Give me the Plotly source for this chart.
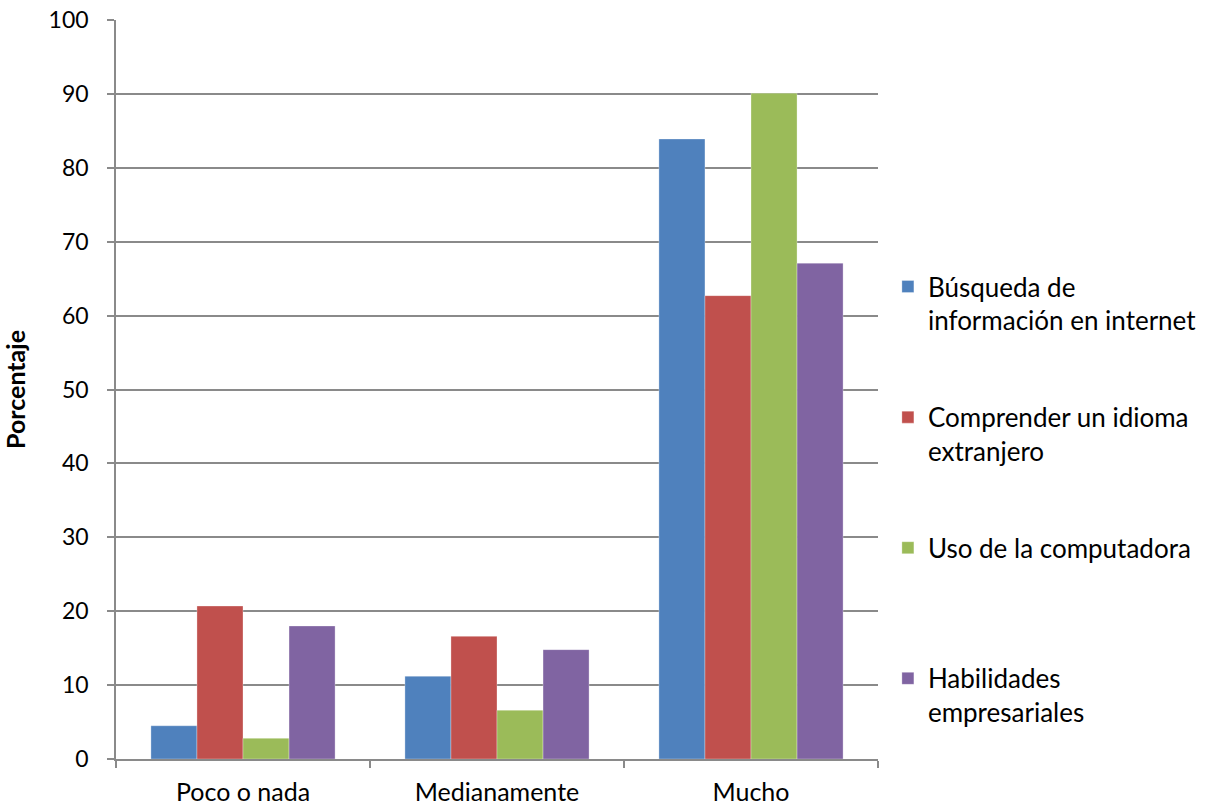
import plotly.graph_objects as go

categories = ["Poco o nada", "Medianamente", "Mucho"]
series_names = [
    "Búsqueda de<br>información en internet",
    "Comprender un idioma<br>extranjero",
    "Uso de la computadora<br> ",
    "Habilidades<br>empresariales",
]
busqueda = [4.5, 11.2, 83.9]
idioma = [20.7, 16.6, 62.7]
computadora = [2.8, 6.6, 90.1]
habilidades = [18.0, 14.8, 67.1]
colors = ["#4F81BD", "#C0504D", "#9BBB59", "#8064A2"]
y_ticks = [0, 10, 20, 30, 40, 50, 60, 70, 80, 90, 100]

values = [busqueda, idioma, computadora, habilidades]

FONT = "Lato, Calibri, Carlito, sans-serif"
GRID = "#8a8a8a"

fig = go.Figure()
for i, (name, vals) in enumerate(zip(series_names, values)):
    fig.add_trace(go.Bar(
        x=categories, y=vals, name=name,
        marker=dict(color=colors[i], line=dict(color="rgba(255,255,255,0.5)", width=0.6)),
        legendgroup=f"g{i}",
    ))

fig.update_layout(
    width=1205, height=809,
    paper_bgcolor="white", plot_bgcolor="white",
    margin=dict(l=116, r=327, t=20, b=50, autoexpand=False),
    barmode="group", bargap=0.275, bargroupgap=0,
    font=dict(family=FONT, size=22, color="black"),
    legend=dict(
        x=1.013, xanchor="left", y=0.671, yanchor="top",
        valign="top", tracegroupgap=60,
        font=dict(family=FONT, size=26, color="black"),
        itemwidth=30, bgcolor="rgba(0,0,0,0)",
    ),
    showlegend=True,
)
fig.update_xaxes(
    type="category", showline=True, linecolor=GRID, linewidth=1.5,
    ticks="outside", tickson="boundaries", ticklen=7, tickcolor=GRID, tickwidth=1.5,
    showgrid=False, ticklabelstandoff=10,
    tickfont=dict(family=FONT, size=25, color="black"),
)
fig.update_yaxes(
    range=[0, 100], tickvals=y_ticks, showline=True, linecolor=GRID, linewidth=1.5,
    ticks="outside", ticklen=7, tickcolor=GRID, tickwidth=1.5,
    showgrid=True, gridcolor=GRID, gridwidth=1.5, zeroline=False,
    ticklabelstandoff=14, ticklabeloverflow="allow",
    tickfont=dict(family=FONT, size=23, color="black"),
    title=dict(text="<b>Porcentaje</b>", font=dict(family=FONT, size=25, color="black"), standoff=19),
)

fig.write_html(
    "out.html",
    config={"displayModeBar": False},
    post_script="document.body.style.margin='0';document.body.style.padding='0';",
)
